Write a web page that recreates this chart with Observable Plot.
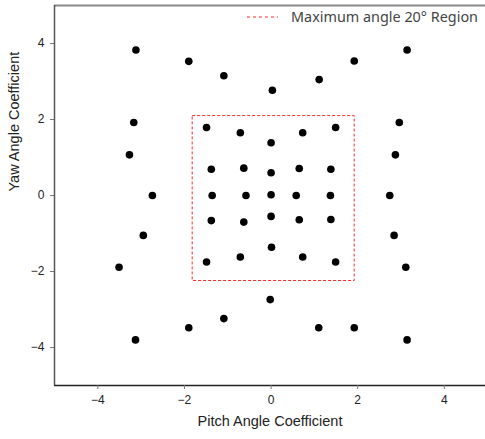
<!DOCTYPE html>
<html>
<head>
<meta charset="utf-8">
<script src="https://cdn.jsdelivr.net/npm/d3@7"></script>
<script src="https://cdn.jsdelivr.net/npm/@observablehq/plot@0.6"></script>
<style>
  html, body { margin: 0; padding: 0; background: #fff; overflow: hidden; }
  #wrap { position: relative; width: 485px; height: 439px; }
  #legend { position: absolute; left: 247px; top: 7px; display: flex; align-items: center;
    font-family: "Noto Sans", sans-serif; font-size: 14.4px; color: #444; white-space: nowrap; }
  #legend svg { margin-right: 13px; }
</style>
</head>
<body>
<div id="wrap"><div id="legend"></div></div>
<script>
// Pitch (x) and Yaw (y) coefficients of the sampled points
const pitch = [
  -3.12, -1.90, -1.09, 0.03, 1.11, 1.92, 3.14,
  -3.17, -3.27, -2.74, -2.95, -3.51,
  2.96, 2.87, 2.74, 2.84, 3.11,
  -3.13, -1.90, -1.09, -0.02, 1.10, 1.92, 3.14,
  -1.49, -0.71, 0.00, 0.73, 1.49,
  -1.38, -0.63, 0.00, 0.65, 1.38,
  -1.36, -0.58, 0.00, 0.58, 1.37,
  -1.38, -0.63, 0.00, 0.65, 1.38,
  -1.49, -0.71, 0.01, 0.73, 1.49
];
const yaw = [
  3.83, 3.53, 3.15, 2.77, 3.05, 3.54, 3.83,
  1.92, 1.07, 0.00, -1.05, -1.89,
  1.92, 1.07, 0.00, -1.05, -1.89,
  -3.80, -3.48, -3.24, -2.74, -3.48, -3.48, -3.80,
  1.79, 1.65, 1.39, 1.65, 1.79,
  0.69, 0.72, 0.60, 0.71, 0.69,
  0.00, 0.00, 0.02, 0.00, 0.00,
  -0.66, -0.70, -0.55, -0.64, -0.63,
  -1.75, -1.62, -1.36, -1.62, -1.75
];
// Maximum angle 20° region bounds
const regionX = [-1.81, 1.93];
const regionY = [-2.25, 2.09];
const xTicks = [-4, -2, 0, 2, 4];
const yTicks = [-4, -2, 0, 2, 4];
const xDomain = [-5, 4.95];
const yDomain = [-5, 5];
const xLabel = "Pitch Angle Coefficient";
const yLabel = "Yaw Angle Coefficient";
const legendLabel = "Maximum angle 20° Region";

const points = pitch.map((p, i) => ({pitch: p, yaw: yaw[i]}));
const region = [{x1: regionX[0], x2: regionX[1], y1: regionY[0], y2: regionY[1]}];

const chart = Plot.plot({
  width: 485,
  height: 439,
  marginLeft: 54,
  marginRight: 0,
  marginTop: 5,
  marginBottom: 54,
  style: {fontFamily: "Liberation Sans, Arial, sans-serif", background: "#fff", overflow: "visible"},
  x: {domain: xDomain},
  y: {domain: yDomain},
  marks: [
    Plot.rect(region, {x1: "x1", x2: "x2", y1: "y1", y2: "y2", fill: "none", stroke: "#ff2a2a", strokeWidth: 1, strokeDasharray: "3,2"}),
    Plot.dot(points, {x: "pitch", y: "yaw", r: 3.8, fill: "#000", stroke: "none"}),
    Plot.ruleY([yDomain[1]], {stroke: "#888", strokeWidth: 2}),
    Plot.ruleX([xDomain[0]], {stroke: "#555", strokeWidth: 1.5}),
    Plot.ruleY([yDomain[0]], {stroke: "#222", strokeWidth: 1.5}),
    Plot.axisX(xTicks, {tickSize: 4, tickPadding: 6, fontSize: 12, stroke: "#777", fill: "#222", label: null}),
    Plot.axisY(yTicks, {tickSize: 4, tickPadding: 6, fontSize: 12, stroke: "#777", fill: "#222", label: null}),
    Plot.text([xLabel], {frameAnchor: "bottom", dy: 40, fontSize: 14.5, fill: "#222"}),
    Plot.text([yLabel], {frameAnchor: "left", rotate: -90, dx: -40, dy: -4, fontSize: 14.5, fill: "#222"})
  ]
});
document.getElementById("wrap").prepend(chart);

const legend = document.getElementById("legend");
legend.innerHTML = `<svg width="31" height="4"><line x1="0" y1="2" x2="31" y2="2" stroke="#ff2a2a" stroke-width="1" stroke-dasharray="3,3"/></svg><span>${legendLabel}</span>`;
</script>
</body>
</html>
